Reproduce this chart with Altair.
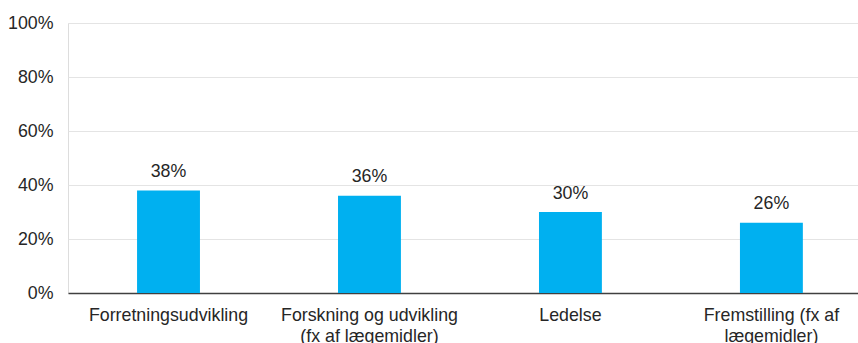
import altair as alt
import pandas as pd

# Share of respondents per area
categories = [
    "Forretningsudvikling",
    "Forskning og udvikling (fx af lægemidler)",
    "Ledelse",
    "Fremstilling (fx af lægemidler)",
]
label_lines = [
    ["Forretningsudvikling"],
    ["Forskning og udvikling", "(fx af lægemidler)"],
    ["Ledelse"],
    ["Fremstilling (fx af", "lægemidler)"],
]
values = [0.38, 0.36, 0.30, 0.26]

df = pd.DataFrame({"kategori": categories, "andel": values})

# Multi-line axis labels
expr = "null"
for cat, lines in reversed(list(zip(categories, label_lines))):
    arr = "[" + ", ".join("'" + l + "'" for l in lines) + "]"
    expr = f"datum.label == '{cat}' ? {arr} : ({expr})"

FONT = "Liberation Sans"
TXT = "#262626"
FS = 17.8

x = alt.X(
    "kategori:N",
    sort=categories,
    title=None,
    scale=alt.Scale(paddingInner=0.687, paddingOuter=0.309, align=0.556),
    axis=alt.Axis(
        labelAngle=0,
        labelExpr=expr,
        labelFont=FONT,
        labelFontSize=FS,
        labelColor=TXT,
        labelLineHeight=21,
        labelPadding=13,
        labelLimit=300,
        ticks=False,
        domainColor="#404040",
        domainWidth=1.5,
        grid=False,
    ),
)

y = alt.Y(
    "andel:Q",
    title=None,
    scale=alt.Scale(domain=[0, 1], nice=False),
    axis=alt.Axis(
        values=[0, 0.2, 0.4, 0.6, 0.8, 1.0],
        format=".0%",
        labelFont=FONT,
        labelFontSize=FS,
        labelColor=TXT,
        labelPadding=15,
        ticks=False,
        domain=False,
        gridColor="#E4E4E4",
        gridWidth=1.2,
    ),
)

bars = alt.Chart(df).mark_bar(color="#00B0F0").encode(x=x, y=y)

labels = alt.Chart(df).mark_text(
    font=FONT, fontSize=FS, color=TXT, baseline="alphabetic", dy=-13.5
).encode(
    x=alt.X("kategori:N", sort=categories),
    y="andel:Q",
    text=alt.Text("andel:Q", format=".0%"),
)

chart = (
    alt.layer(bars, labels)
    .properties(
        width=790,
        height=270,
        autosize=alt.AutoSizeParams(type="none"),
        padding={"left": 68, "top": 23, "right": 0, "bottom": 50},
    )
    .configure_view(stroke=None)
    .configure(background="white")
)

chart.save("out.html", embed_options={"renderer": "svg", "actions": False})
